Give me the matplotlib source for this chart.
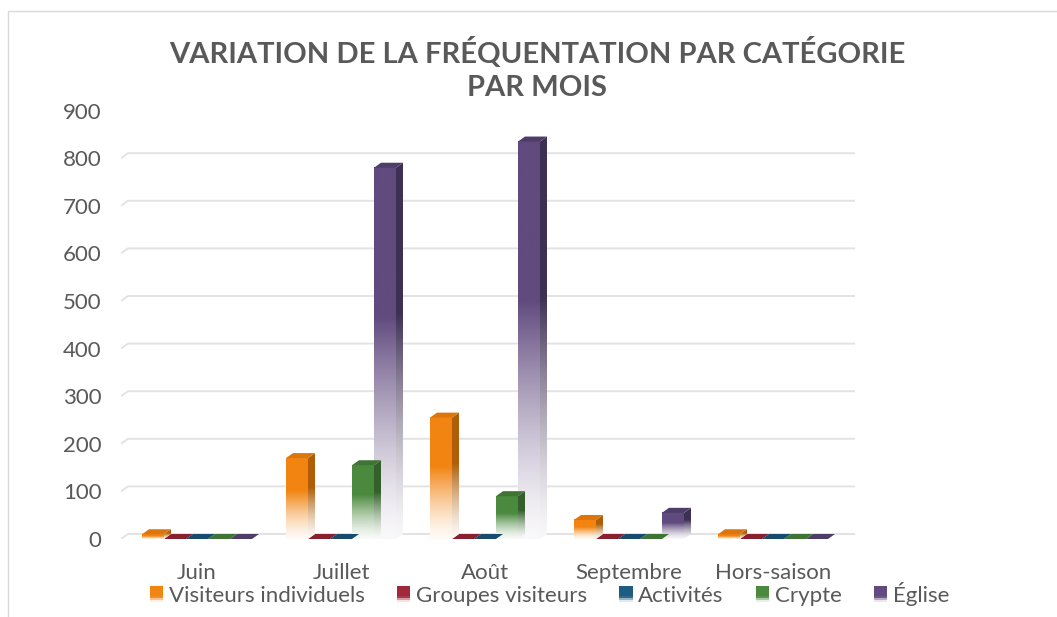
import numpy as np
import matplotlib
matplotlib.use('Agg')
import matplotlib.pyplot as plt
from matplotlib.patches import Polygon, Rectangle, Patch
from matplotlib.legend_handler import HandlerBase
from matplotlib.colors import to_rgb

# data
months = ['Juin', 'Juillet', 'Août', 'Septembre', 'Hors-saison']
series = ['Visiteurs individuels', 'Groupes visiteurs', 'Activités', 'Crypte', 'Église']
visiteurs = [10, 170, 255, 40, 10]
groupes = [0, 0, 0, 0, 0]
activites = [0, 0, 0, 0, 0]
crypte = [0, 155, 90, 0, 0]
eglise = [0, 780, 835, 55, 0]
yticks = [0, 100, 200, 300, 400, 500, 600, 700, 800, 900]

front_colors = ['#F28411', '#A0283A', '#1F5C82', '#4B8A3E', '#604A7E']
side_colors = ['#B05E07', '#6E1A27', '#143E58', '#34602B', '#3E3054']
top_colors = ['#DC760C', '#88202F', '#194C6C', '#3F7534', '#4F3D69']

TEXT = '#595959'
GRID = '#E3E3E3'
plt.rcParams['font.family'] = ['Lato', 'DejaVu Sans']

W, H = 1057, 617
PX_X = 144.0          # px per category
PX_Y = 47.6 / 100.0   # px per unit
bar_w = 22 / PX_X
dx = 7 / PX_X
dy = 5 / PX_Y


def mix(t):
    return 0.04 + 0.96 * np.clip(t / 0.6, 0, 1) ** 1.4


def grad_img(color, n=200):
    c = np.array(to_rgb(color))
    t = np.linspace(0, 1, n)
    m = mix(t)[:, None]
    img = 1 - m + m * c
    return img[:, None, :]


fig = plt.figure(figsize=(W / 100, H / 100), dpi=100)
x_left, x_right = 121, 855
y0, y900 = 539, 539 - 900 * PX_Y
ax = fig.add_axes([x_left / W, (H - y0) / H, (x_right - x_left) / W, (y0 - y900) / H])
xmin = (x_left - 197) / PX_X
xmax = (x_right - 197) / PX_X

# back wall gridlines with the little floor slant on the left
for v in yticks:
    ax.plot([xmin, xmin + dx, xmax], [v, v + dy, v + dy], color=GRID, lw=1.4,
            zorder=0, solid_capstyle='butt')

data = [visiteurs, groupes, activites, crypte, eglise]
n = len(series)
for k in range(n - 1, -1, -1):
    for i, v in enumerate(data[k]):
        x = i - n * bar_w / 2 + k * bar_w
        z = 2 + (n - k) * 0.1
        if v > 0:
            img = grad_img(front_colors[k])
            ax.imshow(img, extent=[x, x + bar_w, 0, v], origin='lower', aspect='auto',
                      interpolation='bilinear', zorder=z)
            side = Polygon([(x + bar_w, 0), (x + bar_w + dx, dy), (x + bar_w + dx, v + dy),
                            (x + bar_w, v)], closed=True, facecolor='none', edgecolor='none')
            ax.add_patch(side)
            simg = grad_img(side_colors[k])
            im = ax.imshow(simg, extent=[x + bar_w, x + bar_w + dx, 0, v + dy], origin='lower',
                           aspect='auto', interpolation='bilinear', zorder=z)
            im.set_clip_path(side)
        top = Polygon([(x, v), (x + bar_w, v), (x + bar_w + dx, v + dy), (x + dx, v + dy)],
                      closed=True, facecolor=top_colors[k], edgecolor='none', zorder=z + 0.01)
        ax.add_patch(top)

ax.set_xlim(xmin, xmax)
ax.set_ylim(0, 900)
ax.set_xticks(range(len(months)))
ax.set_xticklabels(months)
ax.set_yticks(yticks)
ax.tick_params(length=0, colors=TEXT, labelsize=16)
ax.tick_params(axis='y', pad=14)
ax.tick_params(axis='x', pad=17)
for s in ax.spines.values():
    s.set_visible(False)
ax.set_facecolor('none')

fig.text(0.508, 0.888, 'VARIATION DE LA FRÉQUENTATION PAR CATÉGORIE\nPAR MOIS',
         ha='center', va='center', fontsize=21, fontweight='bold', color=TEXT,
         linespacing=1.3)


class GradHandler(HandlerBase):
    def create_artists(self, legend, orig_handle, xdescent, ydescent, width, height,
                       fontsize, trans):
        c = np.array(to_rgb(orig_handle.get_facecolor()))
        arts = []
        steps = 8
        for j in range(steps):
            m = mix((j + 0.5) / steps * 1.8)
            col = 1 - m + m * c
            arts.append(Rectangle((-xdescent, -ydescent + height * j / steps), width,
                                  height / steps * 1.05, facecolor=col, edgecolor='none',
                                  transform=trans))
        return arts


handles = [Patch(facecolor=c) for c in front_colors]
fig.legend(handles, series, loc='center', bbox_to_anchor=(0.520, 0.038), ncol=5,
           frameon=False, fontsize=16, labelcolor=TEXT, handlelength=0.6,
           handleheight=0.7, handletextpad=0.25, columnspacing=1.45,
           handler_map={Patch: GradHandler()})

fig.add_artist(Rectangle((8 / W, -0.1), 1.2, (H - 11) / H + 0.1, transform=fig.transFigure,
                         fill=False, edgecolor='#D9D9D9', lw=1))

fig.savefig('out.png', dpi=100)
